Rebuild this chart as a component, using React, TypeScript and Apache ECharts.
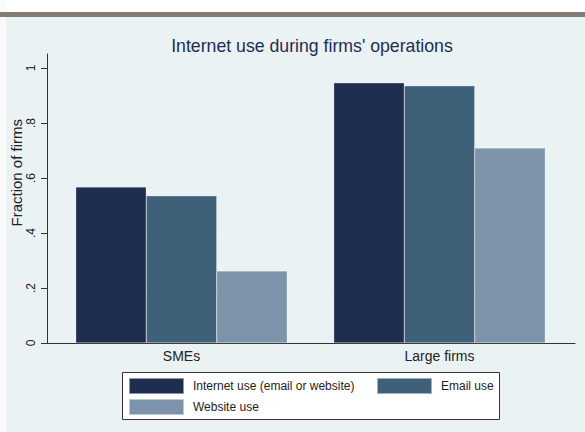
import React, { useEffect, useRef } from "react";
import * as echarts from "echarts";

const categories = ["SMEs", "Large firms"];
const seriesNames = ["Internet use (email or website)", "Email use", "Website use"];
const internetUse = [0.567, 0.946];
const emailUse = [0.535, 0.935];
const websiteUse = [0.262, 0.709];
const yTicks = [0, 0.2, 0.4, 0.6, 0.8, 1];
const colors = ["#1f2d51", "#3e6179", "#7c93a9"];

const fmt = (v: number) => (v === 0 ? "0" : v === 1 ? "1" : String(v).replace(/^0/, ""));

export default function App() {
  const ref = useRef<HTMLDivElement>(null);
  useEffect(() => {
    if (!ref.current) return;
    const chart = echarts.init(ref.current, undefined, { renderer: "svg" });
    const values = [internetUse, emailUse, websiteUse];
    const font = "'Liberation Sans', Arial, sans-serif";
    const catPos = categories.map((_, i) => i);
    chart.setOption({
      animation: false,
      backgroundColor: "#eaf2f3",
      textStyle: { fontFamily: font },
      title: {
        text: "Internet use during firms' operations",
        left: 307,
        textAlign: "center",
        top: 32,
        textStyle: { fontSize: 17.7, fontWeight: "normal", color: "#1e2d53", fontFamily: font },
      },
      graphic: [
        { type: "rect", shape: { x: 0, y: 0, width: 585, height: 12 }, style: { fill: "#ffffff" }, silent: true },
        { type: "rect", shape: { x: 0, y: 0, width: 6, height: 432 }, style: { fill: "#fafcfc" }, silent: true },
        { type: "rect", shape: { x: 0, y: 12, width: 585, height: 5 }, style: { fill: "#847b72" }, silent: true },
        {
          type: "rect",
          shape: { x: 122.5, y: 372.5, width: 377, height: 47 },
          style: { fill: "#ffffff", stroke: "#333333", lineWidth: 1 },
          silent: true,
          z: -1,
        },
        {
          type: "text",
          left: 9,
          top: 119,
          rotation: Math.PI / 2,
          style: {
            text: "Fraction of firms",
            fontSize: 15,
            fill: "#222222",
            fontFamily: font,
          },
          silent: true,
        },
      ],
      legend: seriesNames.map((n, i) => ({
        data: [n],
        left: i === 1 ? 376 : 128,
        top: i === 2 ? 398 : 377,
        itemWidth: 55,
        itemHeight: 16,
        itemGap: 0,
        icon: "rect",
        textStyle: { fontSize: 12, color: "#222222", fontFamily: font, padding: [0, 0, 0, 4] },
        padding: 0,
        selectedMode: false,
        z: 5,
      })),
      grid: { left: 47, top: 54, width: 528, height: 289, containLabel: false },
      xAxis: {
        type: "value",
        min: -0.5213,
        max: 1.5252,
        axisLine: { onZero: false, lineStyle: { color: "#333333", width: 1 } },
        axisTick: { show: false },
        splitLine: { show: false },
        axisLabel: {
          fontSize: 14,
          color: "#222222",
          margin: 6,
          fontFamily: font,
          customValues: catPos,
          formatter: (v: number) => categories[Math.round(v)] ?? "",
        },
      },
      yAxis: {
        type: "value",
        min: 0,
        max: 1.0509,
        interval: 0.2,
        axisLine: { show: true, onZero: false, lineStyle: { color: "#333333", width: 1 } },
        axisTick: { show: true, length: 6, lineStyle: { color: "#333333" }, customValues: yTicks },
        axisLabel: {
          rotate: 90,
          fontSize: 12,
          color: "#222222",
          margin: 10,
          formatter: (v: number) => fmt(Math.round(v * 10) / 10),
          customValues: yTicks,
          fontFamily: font,
        },
        splitLine: { show: true, lineStyle: { color: "#e6eef0", width: 1 } },
      },
      series: seriesNames.map((n, i) => ({
        name: n,
        type: "bar",
        data: values[i].map((v, j) => [catPos[j], v]),
        barWidth: 70.5,
        barGap: "0%",
        itemStyle: { color: colors[i], borderColor: "rgba(255,255,255,0.5)", borderWidth: 0.5 },
      })),
    });
    return () => chart.dispose();
  }, []);
  return (
    <div
      ref={ref}
      style={{ position: "fixed", left: 0, top: 0, width: 585, height: 432 }}
    />
  );
}
